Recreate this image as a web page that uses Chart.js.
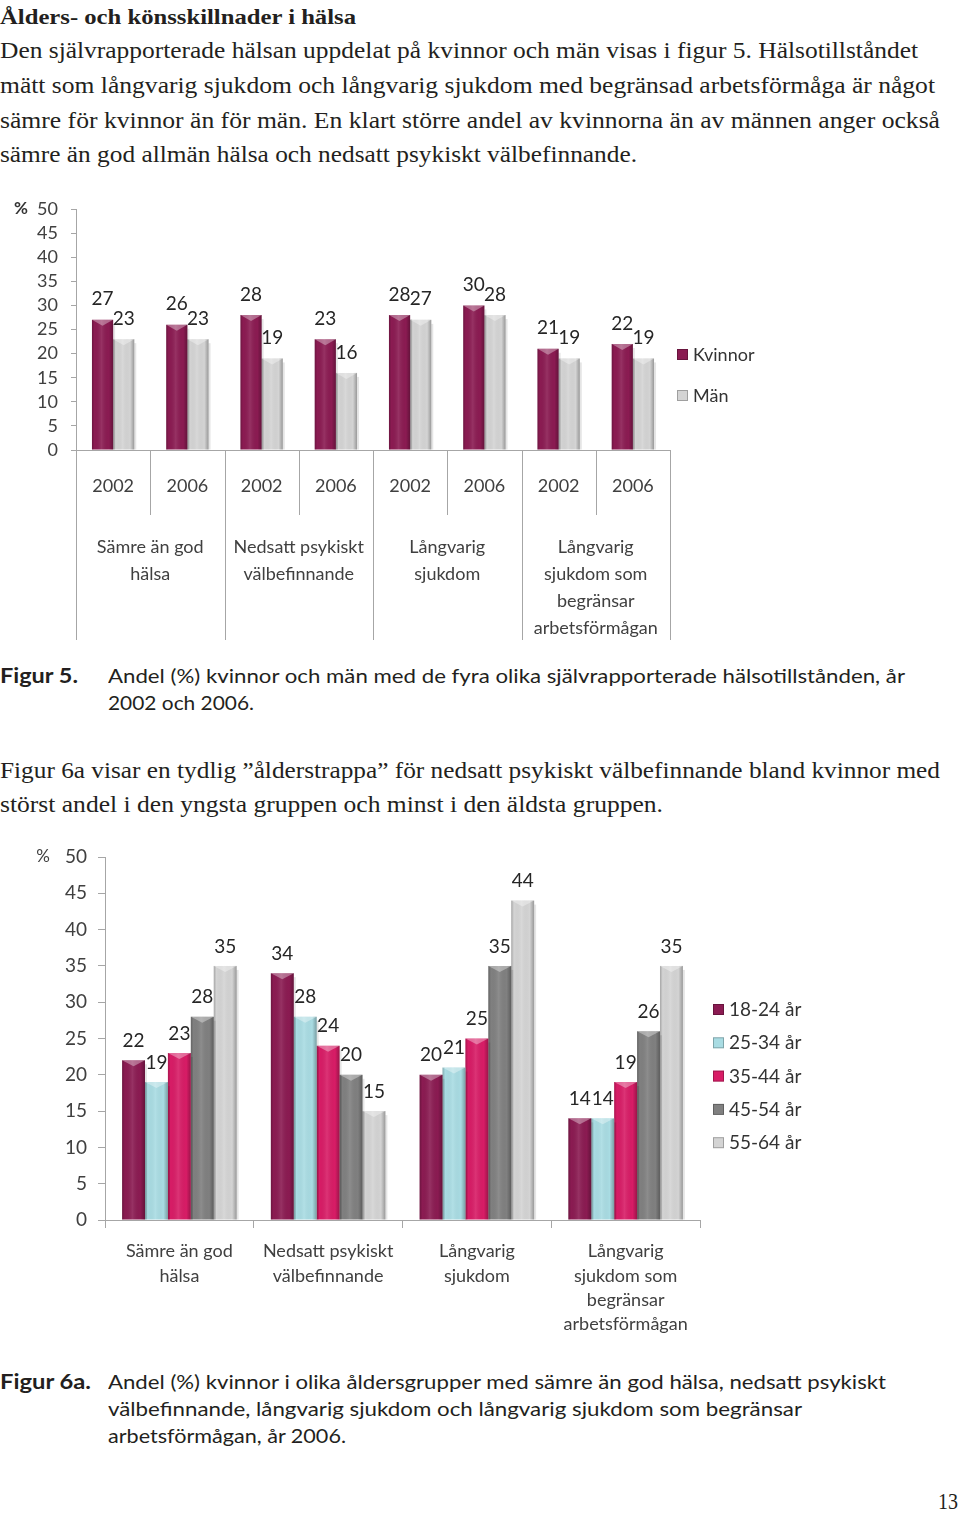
<!DOCTYPE html>
<html><head><meta charset="utf-8">
<script src="https://cdn.jsdelivr.net/npm/chart.js@4"></script>
<style>
html,body{margin:0;padding:0;background:#fff;}
body{width:960px;height:1513px;position:relative;overflow:hidden;color:#231f20;}
.t{position:absolute;white-space:nowrap;transform-origin:0 50%;line-height:30px;}
.serif{font-family:"Liberation Serif","DejaVu Serif",serif;font-size:23px;}
.sans{font-family:Lato,"Open Sans",sans-serif;font-size:20px;}
canvas{position:absolute;left:0;}
</style></head><body>
<div class="t serif" data-w="356" style="left:0;top:2px;font-weight:bold;font-size:21px">Ålders- och könsskillnader i hälsa</div>
<div class="t serif" data-w="918" style="left:0;top:36px">Den självrapporterade hälsan uppdelat på kvinnor och män visas i figur 5. Hälsotillståndet</div>
<div class="t serif" data-w="935" style="left:0;top:71px">mätt som långvarig sjukdom och långvarig sjukdom med begränsad arbetsförmåga är något</div>
<div class="t serif" data-w="940" style="left:0;top:106px">sämre för kvinnor än för män. En klart större andel av kvinnorna än av männen anger också</div>
<div class="t serif" data-w="637" style="left:0;top:140px">sämre än god allmän hälsa och nedsatt psykiskt välbefinnande.</div>

<canvas id="c1" width="780" height="445" style="top:195px"></canvas>

<div class="t sans" data-w="78" style="left:0;top:660px;font-weight:bold">Figur 5.</div>
<div class="t sans" data-w="797" style="left:108px;top:660px">Andel (%) kvinnor och män med de fyra olika självrapporterade hälsotillstånden, år</div>
<div class="t sans" data-w="146" style="left:108px;top:687px">2002 och 2006.</div>

<div class="t serif" data-w="940" style="left:0;top:756px">Figur 6a visar en tydlig ”ålderstrappa” för nedsatt psykiskt välbefinnande bland kvinnor med</div>
<div class="t serif" data-w="663" style="left:0;top:790px">störst andel i den yngsta gruppen och minst i den äldsta gruppen.</div>

<canvas id="c2" width="830" height="500" style="top:840px"></canvas>

<div class="t sans" data-w="91" style="left:0;top:1366px;font-weight:bold">Figur 6a.</div>
<div class="t sans" data-w="778" style="left:108px;top:1366px">Andel (%) kvinnor i olika åldersgrupper med sämre än god hälsa, nedsatt psykiskt</div>
<div class="t sans" data-w="694" style="left:108px;top:1393px">välbefinnande, långvarig sjukdom och långvarig sjukdom som begränsar</div>
<div class="t sans" data-w="238" style="left:108px;top:1420px">arbetsförmågan, år 2006.</div>

<div class="t serif" data-w="20" style="left:938px;top:1487px">13</div>

<script>
// ---------- data ----------
const fig5Years = ['2002','2006','2002','2006','2002','2006','2002','2006'];
const fig5Groups = [['Sämre än god','hälsa'],['Nedsatt psykiskt','välbefinnande'],['Långvarig','sjukdom'],['Långvarig','sjukdom som','begränsar','arbetsförmågan']];
const fig5Kvinnor = [27,26,28,23,28,30,21,22];
const fig5Man = [23,23,19,16,27,28,19,19];
const fig5SeriesNames = ['Kvinnor','Män'];

const fig6Categories = [['Sämre än god','hälsa'],['Nedsatt psykiskt','välbefinnande'],['Långvarig','sjukdom'],['Långvarig','sjukdom som','begränsar','arbetsförmågan']];
const fig6SeriesNames = ['18-24 år','25-34 år','35-44 år','45-54 år','55-64 år'];
const age1824 = [22,34,20,14];
const age2534 = [19,28,21,14];
const age3544 = [23,24,25,19];
const age4554 = [28,20,35,26];
const age5564 = [35,15,44,35];

const yMin = 0, yMax = 50, yStep = 5;

// ---------- text fitting ----------
document.querySelectorAll('.t[data-w]').forEach(el=>{
  const w = el.getBoundingClientRect().width;
  const target = +el.dataset.w;
  if (w>0) el.style.transform = 'scaleX(' + (target/w) + ')';
});

// ---------- helpers ----------
const FONT = 'Lato, "Open Sans", sans-serif';
function shadeBars(chart){
  const ctx = chart.ctx;
  chart.data.datasets.forEach((ds,i)=>{
    const meta = chart.getDatasetMeta(i);
    meta.data.forEach(el=>{
      const p = el.getProps(['x','y','base','width'], true);
      const l = p.x - p.width/2, h = p.base - p.y, w = p.width;
      ctx.save();
      ctx.fillStyle = 'rgba(0,0,0,0.10)';
      ctx.fillRect(l+w, p.y+4, 2, h-4);
      const g = ctx.createLinearGradient(l,0,l+w,0);
      g.addColorStop(0,'rgba(0,0,0,0.22)');
      g.addColorStop(0.12,'rgba(0,0,0,0)');
      g.addColorStop(0.45,'rgba(255,255,255,0.10)');
      g.addColorStop(0.8,'rgba(0,0,0,0)');
      g.addColorStop(1,'rgba(0,0,0,0.28)');
      ctx.fillStyle = g;
      ctx.fillRect(l, p.y, w, h);
      ctx.fillStyle = 'rgba(255,255,255,0.35)';
      ctx.beginPath();
      ctx.moveTo(l, p.y); ctx.lineTo(l+w, p.y); ctx.lineTo(l+w/2, p.y+6); ctx.closePath();
      ctx.fill();
      ctx.restore();
    });
  });
}
function drawLabels(chart, fontSize, gap){
  const ctx = chart.ctx;
  ctx.save();
  ctx.font = fontSize + 'px ' + FONT;
  ctx.fillStyle = '#262626';
  ctx.textAlign = 'center';
  ctx.textBaseline = 'bottom';
  chart.data.datasets.forEach((ds,i)=>{
    chart.getDatasetMeta(i).data.forEach((el,j)=>{
      const p = el.getProps(['x','y'], true);
      ctx.fillText(String(ds.data[j]), p.x, p.y - gap);
    });
  });
  ctx.restore();
}
function drawLegend(chart, x0, y0, dy, fontSize){
  const ctx = chart.ctx;
  ctx.save();
  ctx.font = fontSize + 'px ' + FONT;
  ctx.textBaseline = 'middle';
  ctx.textAlign = 'left';
  chart.data.datasets.forEach((ds,i)=>{
    const y = y0 + i*dy;
    ctx.fillStyle = ds.backgroundColor;
    ctx.fillRect(x0, y-6, 11, 11);
    ctx.strokeStyle = 'rgba(0,0,0,0.25)';
    ctx.strokeRect(x0+0.5, y-5.5, 10, 10);
    ctx.fillStyle = '#333';
    ctx.fillText(ds.label, x0 + 16, y);
  });
  ctx.restore();
}
function yFit(width){
  return function(s){ s.width = width; s.paddingTop = 0; s.paddingBottom = 0; };
}

// ---------- Figure 5 ----------
const fig5Plugin = {
  id: 'fig5extra',
  afterDatasetsDraw(chart){
    shadeBars(chart);
    drawLabels(chart, 19, 11);
  },
  afterDraw(chart){
    const ctx = chart.ctx, xs = chart.scales.x, ca = chart.chartArea;
    const half = (xs.getPixelForValue(1) - xs.getPixelForValue(0))/2;
    ctx.save();
    ctx.strokeStyle = '#a6a6a6';
    ctx.lineWidth = 1;
    for (let i=0;i<=fig5Years.length;i++){
      let bx = i===0 ? ca.left : (i===fig5Years.length ? ca.right : xs.getPixelForValue(i) - half);
      bx = Math.round(bx) + 0.5;
      const major = i%2===0;
      const y2 = major ? chart.height : ca.bottom + 65;
      ctx.beginPath(); ctx.moveTo(bx, ca.bottom); ctx.lineTo(bx, y2); ctx.stroke();
    }
    ctx.font = '18px ' + FONT;
    ctx.fillStyle = '#404040';
    ctx.textAlign = 'center';
    ctx.textBaseline = 'middle';
    fig5Groups.forEach((lines,g)=>{
      const cx = (xs.getPixelForValue(2*g) + xs.getPixelForValue(2*g+1))/2;
      lines.forEach((ln,k)=> ctx.fillText(ln, cx, ca.bottom + 97 + k*27));
    });
    ctx.font = 'bold 17px ' + FONT;
    ctx.fillStyle = '#333';
    ctx.fillText('%', 21, ca.top);
    ctx.restore();
    drawLegend(chart, ca.right + 7, ca.top + 146, 41, 18);
  }
};

new Chart(document.getElementById('c1'), {
  type: 'bar',
  data: {
    labels: fig5Years,
    datasets: [
      {label: fig5SeriesNames[0], data: fig5Kvinnor, backgroundColor: '#8b1b52'},
      {label: fig5SeriesNames[1], data: fig5Man, backgroundColor: '#d4d4d4'}
    ]
  },
  options: {
    responsive: false,
    animation: false,
    layout: {padding: {left: 0, right: 110, top: 14, bottom: 0}},
    plugins: {legend: {display: false}, tooltip: {enabled: false}},
    datasets: {bar: {categoryPercentage: 0.57, barPercentage: 1}},
    scales: {
      x: {
        grid: {display: false, drawTicks: false},
        border: {display: true, color: '#a6a6a6'},
        ticks: {font: {size: 18, family: FONT}, color: '#404040', padding: 25, maxRotation: 0, autoSkip: false},
        afterFit(s){ s.height = 190; s.paddingLeft = 0; s.paddingRight = 0; }
      },
      y: {
        min: yMin, max: yMax,
        grid: {display: true, drawOnChartArea: false, drawTicks: true, tickLength: 5, color: '#a6a6a6'},
        border: {display: true, color: '#a6a6a6'},
        ticks: {stepSize: yStep, autoSkip: false, font: {size: 18, family: FONT}, color: '#404040', padding: 13},
        afterFit: yFit(76)
      }
    }
  },
  plugins: [fig5Plugin]
});

// ---------- Figure 6a ----------
const fig6Plugin = {
  id: 'fig6extra',
  afterDatasetsDraw(chart){
    shadeBars(chart);
    drawLabels(chart, 19, 10);
  },
  afterDraw(chart){
    const ctx = chart.ctx, ca = chart.chartArea;
    ctx.save();
    ctx.font = '17px ' + FONT;
    ctx.fillStyle = '#404040';
    ctx.textAlign = 'center';
    ctx.textBaseline = 'middle';
    ctx.fillText('%', 43, ca.top);
    ctx.restore();
    drawLegend(chart, ca.right + 13, ca.top + 153, 33.3, 19);
  }
};

const fig6Colors = ['#8b1b52','#a9dce3','#d81c66','#808080','#d4d4d4'];
const fig6Data = [age1824, age2534, age3544, age4554, age5564];

new Chart(document.getElementById('c2'), {
  type: 'bar',
  data: {
    labels: fig6Categories,
    datasets: fig6SeriesNames.map((n,i)=>({label: n, data: fig6Data[i], backgroundColor: fig6Colors[i]}))
  },
  options: {
    responsive: false,
    animation: false,
    layout: {padding: {left: 0, right: 130, top: 17, bottom: 0}},
    plugins: {legend: {display: false}, tooltip: {enabled: false}},
    datasets: {bar: {categoryPercentage: 0.77, barPercentage: 1}},
    scales: {
      x: {
        grid: {display: true, drawOnChartArea: false, drawTicks: true, tickLength: 8, color: '#a6a6a6', offset: true},
        border: {display: true, color: '#a6a6a6'},
        ticks: {font: {size: 18, family: FONT, lineHeight: 1.36}, color: '#404040', padding: 11, maxRotation: 0, autoSkip: false},
        afterFit(s){ s.height = 120; s.paddingLeft = 0; s.paddingRight = 0; }
      },
      y: {
        min: yMin, max: yMax,
        grid: {display: true, drawOnChartArea: false, drawTicks: true, tickLength: 7, color: '#a6a6a6'},
        border: {display: true, color: '#a6a6a6'},
        ticks: {stepSize: yStep, autoSkip: false, font: {size: 19, family: FONT}, color: '#404040', padding: 11},
        afterFit: yFit(105)
      }
    }
  },
  plugins: [fig6Plugin]
});
</script>
</body></html>
